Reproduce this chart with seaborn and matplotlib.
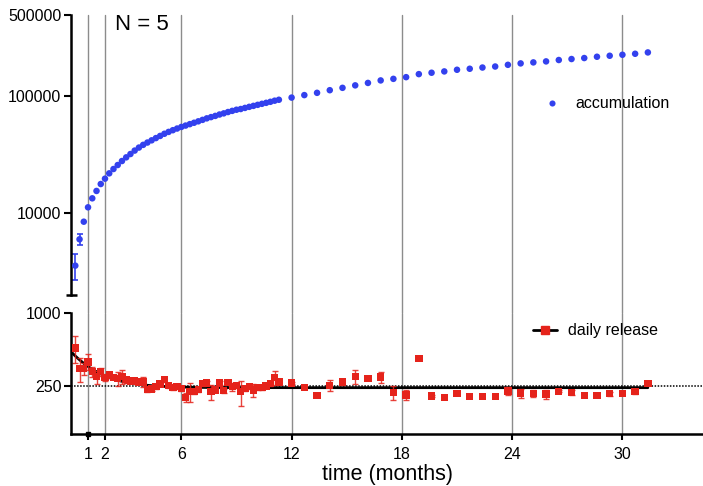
import numpy as np
import pandas as pd
import matplotlib
matplotlib.use("Agg")
import matplotlib.pyplot as plt
from matplotlib.lines import Line2D
from matplotlib.ticker import NullLocator, FixedLocator, FixedFormatter
import seaborn as sns

sns.set_theme(style="white")
plt.rcParams['font.family'] = ['Liberation Sans', 'DejaVu Sans']
plt.rcParams['text.color'] = 'black'
plt.rcParams['axes.labelcolor'] = 'black'

# sampling: weekly during the first year, then every third week (x in weeks)
weeks_dense = list(range(1, 50))
weeks_sparse = list(range(52, 137, 3))
weeks = weeks_dense + weeks_sparse

# cumulative amount released
accumulation = [
    3565, 5995, 8475, 11250, 13430, 15530, 17800, 19780, 21970, 23920,
    25880, 28000, 30100, 32140, 34400, 36500, 38500, 40300, 42100, 44000,
    45900, 47900, 49700, 51400, 53100, 54800, 56300, 57900, 59500, 61200,
    63000, 64900, 66500, 68100, 70000, 71600, 73500, 75200, 76900, 78000,
    79700, 81400, 83000, 84700, 86400, 88100, 89900, 91900, 93600,
    97700, 102600, 107300, 113000, 118400, 124300, 130400, 137000, 141300,
    146100, 155100, 159400, 163600, 169000, 172400, 176600, 180200, 186300,
    191600, 195400, 199300, 204800, 208800, 212900, 218400, 222700, 227100,
    231600, 237800,
]
accumulation_sd = [900, 600] + [0] * (len(weeks) - 2)

# daily release
daily_release = [
    515, 350, 350, 396, 328, 298, 328, 295, 308, 295,
    289, 298, 282, 275, 275, 270, 270, 234, 236, 246,
    259, 282, 251, 243, 246, 239, 201, 224, 224, 234,
    262, 265, 224, 231, 265, 228, 268, 246, 251, 224,
    239, 246, 231, 243, 243, 250, 262, 295, 270,
    265, 243, 209, 253, 270, 300, 289, 296, 221, 210,
    423, 207, 201, 217, 205, 205, 205, 227, 218, 217,
    214, 226, 221, 209, 209, 216, 217, 226, 262,
]
daily_release_sd = [
    130, 80, 40, 60, 30, 36, 25, 20, 15, 10,
    40, 40, 15, 10, 10, 10, 26, 10, 10, 10,
    10, 10, 10, 12, 8, 10, 16, 40, 10, 10,
    10, 10, 32, 10, 10, 10, 10, 20, 10, 52,
    10, 10, 28, 10, 10, 10, 10, 40, 10,
    5, 5, 5, 27, 15, 40, 8, 30, 28, 20,
    0, 5, 0, 5, 0, 0, 0, 18, 18, 15,
    18, 5, 10, 8, 0, 8, 5, 10, 0,
]

# one-phase decay fit of the daily release (x in weeks)
fit_y0 = 480.0
fit_plateau = 242.0
fit_k = 0.17
target_release = 250

month_tick_weeks = [4, 8, 26, 52, 78, 104, 130]
month_tick_labels = ["1", "2", "6", "12", "18", "24", "30"]

BLUE = "#3341EE"
RED = "#E5231B"
GRID = "#8C8C8C"

df = pd.DataFrame({
    "week": weeks,
    "accumulation": accumulation,
    "acc_sd": accumulation_sd,
    "daily": daily_release,
    "daily_sd": daily_release_sd,
})

W, H = 703, 486
fig = plt.figure(figsize=(W / 100, H / 100), dpi=100)
left = 71.06
ax_top = fig.add_axes([left / W, (H - 295) / H, (W - left) / W, 280.3 / H])
ax_bot = fig.add_axes([left / W, (H - 434) / H, (W - left) / W, 120.7 / H])

for ax in (ax_top, ax_bot):
    ax.set_facecolor("white")
    ax.set_xlim(0, 149)
    ax.spines["top"].set_visible(False)
    ax.spines["right"].set_visible(False)
    ax.spines["left"].set_linewidth(1.8)
    ax.spines["left"].set_color("black")
    ax.tick_params(axis="both", which="major", direction="out", length=5,
                   width=1.5, labelsize=11.5, pad=2, color="black",
                   left=True, bottom=True, labelcolor="black")
    ax.grid(False)

# upper panel: accumulation (log scale)
ax_top.spines["bottom"].set_visible(False)
ax_top.set_yscale("log")
ax_top.set_ylim(2000, 500000)
ax_top.yaxis.set_major_locator(FixedLocator([10000, 100000, 500000]))
ax_top.yaxis.set_major_formatter(FixedFormatter(["10000", "100000", "500000"]))
ax_top.yaxis.set_minor_locator(NullLocator())
ax_top.set_xticks([])

gap = (313.3 - 295) / 280.3
for w in month_tick_weeks:
    ax_top.axvline(w, ymin=-gap, ymax=1, color=GRID, lw=1, clip_on=False, zorder=0)
    ax_bot.axvline(w, color=GRID, lw=1, zorder=0)

acc_err = df[df["acc_sd"] > 0]
ax_top.errorbar(acc_err["week"], acc_err["accumulation"], yerr=acc_err["acc_sd"],
                fmt="none", ecolor=BLUE, elinewidth=1.2, capsize=2.2, capthick=1.2,
                zorder=2)
sns.scatterplot(data=df, x="week", y="accumulation", ax=ax_top, color=BLUE,
                s=22, marker="o", edgecolor="none", linewidth=0, zorder=3,
                legend=False)
ax_top.set_xlabel("")
ax_top.set_ylabel("")

# axis break cap
ax_top.plot([-5 / 632, 6 / 632], [0, 0], transform=ax_top.transAxes,
            color="black", lw=1.8, clip_on=False, solid_capstyle="butt")

# lower panel: daily release (log scale)
ax_bot.spines["bottom"].set_linewidth(1.8)
ax_bot.spines["bottom"].set_color("black")
ax_bot.set_yscale("log")
ax_bot.set_ylim(100, 1000)
ax_bot.yaxis.set_major_locator(FixedLocator([250, 1000]))
ax_bot.yaxis.set_major_formatter(FixedFormatter(["250", "1000"]))
ax_bot.yaxis.set_minor_locator(NullLocator())
ax_bot.set_xticks(month_tick_weeks)
ax_bot.set_xticklabels(month_tick_labels)
ax_bot.tick_params(axis="x", length=4, pad=5)

ax_bot.axhline(target_release, color="black", lw=1.1, ls=(0, (1, 1)), zorder=1)

fit_w = np.linspace(0, weeks[-1], 300)
fit_curve = fit_plateau + (fit_y0 - fit_plateau) * np.exp(-fit_k * fit_w)
sns.lineplot(x=fit_w, y=fit_curve, ax=ax_bot, color="black", lw=2, zorder=2)

rel_err = df[df["daily_sd"] > 0]
ax_bot.errorbar(rel_err["week"], rel_err["daily"], yerr=rel_err["daily_sd"],
                fmt="none", ecolor=RED, elinewidth=1, capsize=2.2, capthick=1,
                alpha=0.85, zorder=2)
sns.scatterplot(data=df, x="week", y="daily", ax=ax_bot, color=RED,
                s=28, marker="s", edgecolor="none", linewidth=0, zorder=3,
                legend=False)
ax_bot.plot([4], [100], marker="s", color="black", ms=3, clip_on=False, zorder=5)

ax_bot.set_xlabel("time (months)", fontsize=15.5, labelpad=2, color="black")
ax_bot.set_ylabel("")

fig.text(115 / W, 1 - 25 / H, "N = 5", fontsize=16, ha="left", va="center",
         color="black")

h_acc = Line2D([], [], ls="none", marker="o", color=BLUE, markersize=4.4,
               markeredgewidth=0)
h_rel = Line2D([], [], color="black", lw=2, marker="s", markerfacecolor=RED,
               markeredgecolor=RED, markersize=5.2)
leg_kw = dict(loc="center left", borderpad=0, borderaxespad=0, frameon=False,
              handlelength=1.5, handletextpad=0.7, fontsize=11.5,
              labelcolor="black")
fig.legend([h_acc], ["accumulation"], bbox_to_anchor=(540 / W, 1 - 104 / H), **leg_kw)
fig.legend([h_rel], ["daily release"], bbox_to_anchor=(533 / W, 1 - 331 / H), **leg_kw)

fig.savefig("out.png", dpi=100, facecolor="white")
